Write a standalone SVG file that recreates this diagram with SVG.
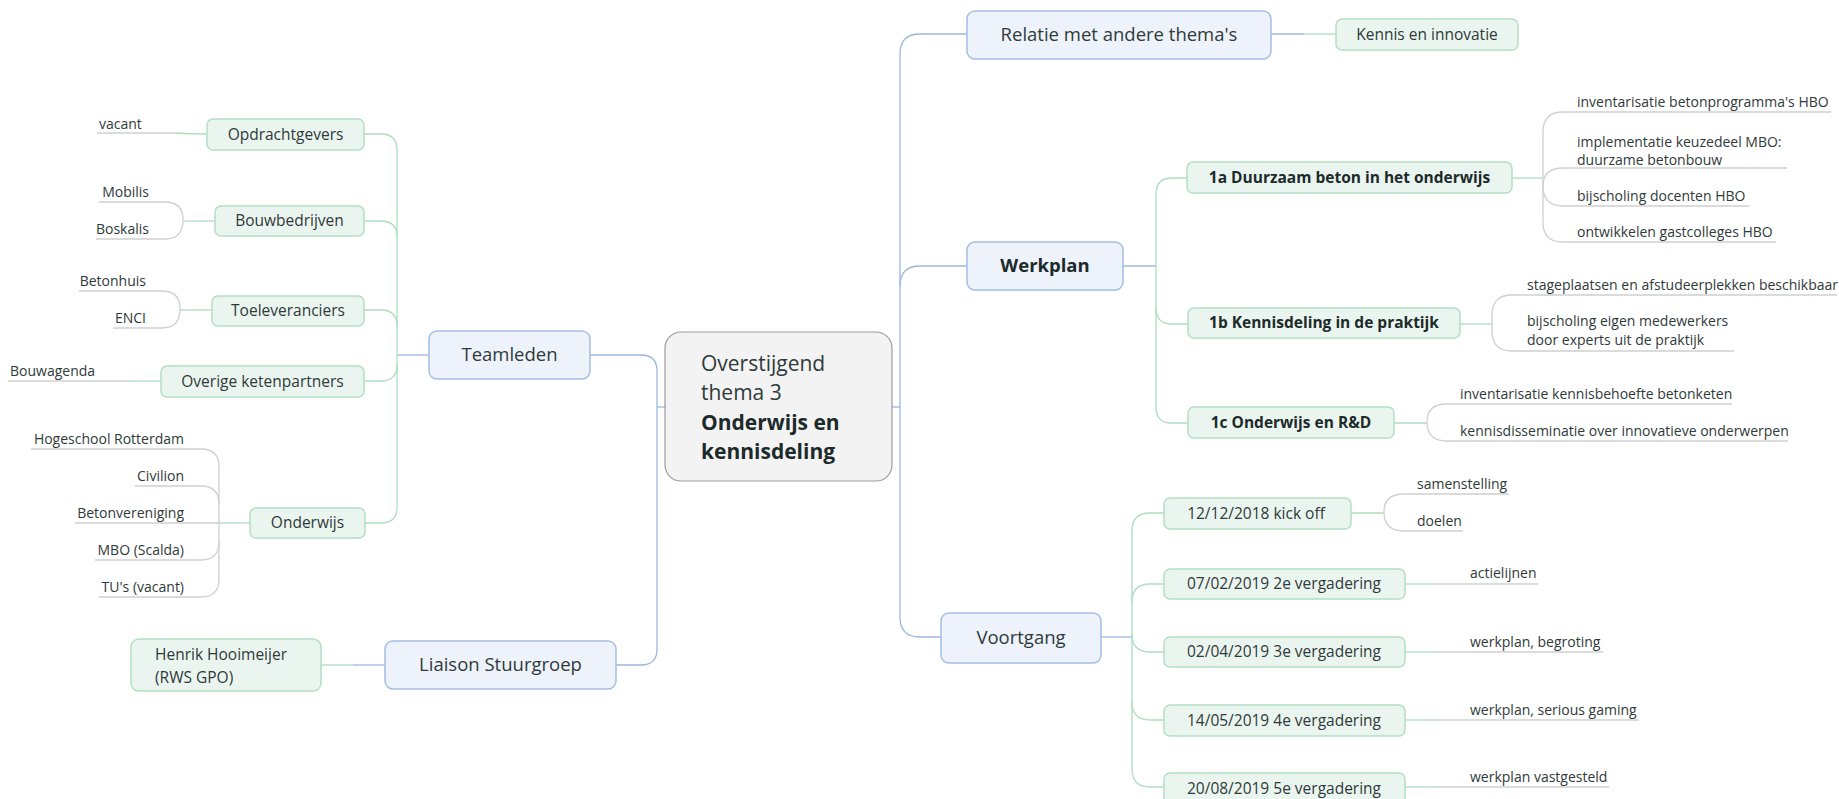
<svg xmlns="http://www.w3.org/2000/svg" width="1839" height="799" viewBox="0 0 1839 799">
<style>
.bl{fill:#EDF2FB;stroke:#A4BEE3;stroke-width:1.5}
.gr{fill:#EBF5EF;stroke:#B3E0C3;stroke-width:1.5}
.ce{fill:#F3F3F3;stroke:#9C9C9C;stroke-width:1.2}
.cb{fill:none;stroke:#9DB8DF;stroke-width:1.3}
.cg{fill:none;stroke:#AEDDBE;stroke-width:1.3}
.cl{fill:none;stroke:#D0D0D0;stroke-width:1.3}
text{font-family:"Open Sans","Noto Sans","DejaVu Sans",sans-serif;fill:#2F3A3A}
.t1{font-size:18.5px}
.t2{font-size:15.5px}
.t3{font-size:14px}
.c{font-size:21px}
.b{font-weight:bold;fill:#1C2A2A}
.m{text-anchor:middle}
.e{text-anchor:end}
</style>
<rect width="1839" height="799" fill="#FFFFFF"/>
<g id="connectors">
<path class="cb" d="M590,355 H641 Q657,355 657,371 V649 Q657,665 641,665 H616"/>
<path class="cb" d="M657,407 H665"/>
<path class="cb" d="M429,355 H397"/>
<path class="cg" d="M364,134 H381 Q397,134 397,150 V507 Q397,523 381,523 H365"/>
<path class="cg" d="M364,221 H381 Q397,221 397,237"/>
<path class="cg" d="M364,310 H381 Q397,310 397,326"/>
<path class="cg" d="M364,381 H381 Q397,381 397,365"/>
<path class="cg" d="M321,665 H353"/>
<path class="cb" d="M353,665 H385"/>
<path class="cl" d="M97,133 H175"/>
<path class="cg" d="M175,133 Q190,134 207,134"/>
<path class="cl" d="M99,202 H165 Q183,202 183,220 Q183,239 165,239 H96"/>
<path class="cg" d="M183,221 H215"/>
<path class="cl" d="M79,291 H162 Q180,291 180,309 Q180,328 162,328 H113"/>
<path class="cg" d="M180,310 H212"/>
<path class="cl" d="M8,381 H130"/>
<path class="cg" d="M130,381 H161"/>
<path class="cl" d="M31,449 H201 Q219,449 219,467 V579 Q219,597 201,597 H99"/>
<path class="cl" d="M135,486 H201 Q219,486 219,504"/>
<path class="cl" d="M219,542 Q219,560 201,560 H95"/>
<path class="cl" d="M75,523 H219"/>
<path class="cg" d="M219,523 H250"/>
<path class="cb" d="M967,34 H920 Q900,34 900,54 V617 Q900,637 920,637 H941"/>
<path class="cb" d="M900,286 Q900,266 920,266 H967"/>
<path class="cb" d="M892,407 H900"/>
<path class="cb" d="M1271,34 H1304"/>
<path class="cg" d="M1304,34 H1336"/>
<path class="cb" d="M1123,266 H1156"/>
<path class="cg" d="M1187,178 H1172 Q1156,178 1156,194 V407 Q1156,423 1172,423 H1188"/>
<path class="cg" d="M1156,308 Q1156,324 1172,324 H1188"/>
<path class="cg" d="M1512,178 H1543"/>
<path class="cl" d="M1831,112 H1563 Q1543,112 1543,132 V222 Q1543,242 1563,242 H1776"/>
<path class="cl" d="M1787,168 H1563 Q1543,168 1543,186"/>
<path class="cl" d="M1543,186 Q1543,206 1563,206 H1749"/>
<path class="cg" d="M1460,324 H1492"/>
<path class="cl" d="M1837,295 H1512 Q1492,295 1492,315 V331 Q1492,351 1512,351 H1734"/>
<path class="cg" d="M1394,423 H1427"/>
<path class="cl" d="M1732,404 H1447 Q1427,404 1427,422 Q1427,441 1447,441 H1788"/>
<path class="cb" d="M1101,637 H1132"/>
<path class="cg" d="M1164,513 H1150 Q1132,513 1132,531 V769 Q1132,787 1150,787 H1164"/>
<path class="cg" d="M1132,602 Q1132,584 1150,584 H1164"/>
<path class="cg" d="M1132,634 Q1132,652 1150,652 H1164"/>
<path class="cg" d="M1132,702 Q1132,720 1150,720 H1164"/>
<path class="cg" d="M1351,513 H1384"/>
<path class="cl" d="M1509,494 H1404 Q1384,494 1384,512 Q1384,531 1404,531 H1463"/>
<path class="cg" d="M1405,584 H1437"/>
<path class="cl" d="M1437,584 H1538"/>
<path class="cg" d="M1405,652 H1437"/>
<path class="cl" d="M1437,652 H1603"/>
<path class="cg" d="M1405,720 H1437"/>
<path class="cl" d="M1437,720 H1639"/>
<path class="cg" d="M1405,787 H1437"/>
<path class="cl" d="M1437,787 H1609"/>
</g>
<g id="center">
<rect class="ce" x="665" y="332" width="227" height="149" rx="16"/>
<text x="701" y="371" class="c">Overstijgend</text>
<text x="701" y="400" class="c">thema 3</text>
<text x="701" y="430" class="c b">Onderwijs en</text>
<text x="701" y="459" class="c b">kennisdeling</text>
</g>
<g id="teamleden"><rect class="bl" x="429" y="331" width="161" height="48" rx="8"/><text class="t1 m" x="509.5" y="361">Teamleden</text></g>
<g id="liaison"><rect class="bl" x="385" y="641" width="231" height="48" rx="8"/><text class="t1 m" x="500.5" y="671">Liaison Stuurgroep</text></g>
<g id="henrik"><rect class="gr" x="131" y="639" width="190" height="52" rx="8"/><text class="t2" x="155" y="660">Henrik Hooimeijer</text><text class="t2" x="155" y="683">(RWS GPO)</text></g>
<g id="opdrachtgevers"><rect class="gr" x="207" y="119" width="157" height="31" rx="6"/><text class="t2 m" x="285.5" y="140">Opdrachtgevers</text></g>
<g id="bouwbedrijven"><rect class="gr" x="215" y="206" width="149" height="30" rx="6"/><text class="t2 m" x="289.5" y="226">Bouwbedrijven</text></g>
<g id="toeleveranciers"><rect class="gr" x="212" y="296" width="152" height="30" rx="6"/><text class="t2 m" x="288" y="316">Toeleveranciers</text></g>
<g id="overige"><rect class="gr" x="161" y="366" width="203" height="31" rx="6"/><text class="t2 m" x="262.5" y="387">Overige ketenpartners</text></g>
<g id="onderwijs"><rect class="gr" x="250" y="508" width="115" height="30" rx="6"/><text class="t2 m" x="307.5" y="528">Onderwijs</text></g>
<g id="left-leaves">
<text class="t3" x="99" y="129">vacant</text>
<text class="t3 e" x="149" y="197">Mobilis</text>
<text class="t3 e" x="149" y="234">Boskalis</text>
<text class="t3 e" x="146" y="286">Betonhuis</text>
<text class="t3 e" x="146" y="323">ENCI</text>
<text class="t3" x="10" y="376">Bouwagenda</text>
<text class="t3 e" x="184" y="444">Hogeschool Rotterdam</text>
<text class="t3 e" x="184" y="481">Civilion</text>
<text class="t3 e" x="184" y="518">Betonvereniging</text>
<text class="t3 e" x="184" y="555">MBO (Scalda)</text>
<text class="t3 e" x="184" y="592">TU's (vacant)</text>
</g>
<g id="relatie"><rect class="bl" x="967" y="11" width="304" height="48" rx="8"/><text class="t1 m" x="1119" y="41">Relatie met andere thema's</text></g>
<g id="kennis"><rect class="gr" x="1336" y="19" width="182" height="31" rx="6"/><text class="t2 m" x="1427" y="40">Kennis en innovatie</text></g>
<g id="werkplan"><rect class="bl" x="967" y="242" width="156" height="48" rx="8"/><text class="t1 m b" x="1045" y="272">Werkplan</text></g>
<g id="n1a"><rect class="gr" x="1187" y="162" width="325" height="31" rx="6"/><text class="t2 m b" x="1349.5" y="183">1a Duurzaam beton in het onderwijs</text></g>
<g id="n1b"><rect class="gr" x="1188" y="308" width="272" height="30" rx="6"/><text class="t2 m b" x="1324" y="328">1b Kennisdeling in de praktijk</text></g>
<g id="n1c"><rect class="gr" x="1188" y="407" width="206" height="31" rx="6"/><text class="t2 m b" x="1291" y="428">1c Onderwijs en R&amp;D</text></g>
<g id="voortgang"><rect class="bl" x="941" y="613" width="160" height="50" rx="8"/><text class="t1 m" x="1021" y="644">Voortgang</text></g>
<g id="d1"><rect class="gr" x="1164" y="498" width="187" height="31" rx="6"/><text class="t2 m" x="1256" y="519">12/12/2018 kick off</text></g>
<g id="d2"><rect class="gr" x="1164" y="569" width="241" height="30" rx="6"/><text class="t2 m" x="1284" y="589">07/02/2019 2e vergadering</text></g>
<g id="d3"><rect class="gr" x="1164" y="637" width="241" height="30" rx="6"/><text class="t2 m" x="1284" y="657">02/04/2019 3e vergadering</text></g>
<g id="d4"><rect class="gr" x="1164" y="705" width="241" height="31" rx="6"/><text class="t2 m" x="1284" y="726">14/05/2019 4e vergadering</text></g>
<g id="d5"><rect class="gr" x="1164" y="773" width="241" height="31" rx="6"/><text class="t2 m" x="1284" y="794">20/08/2019 5e vergadering</text></g>
<g id="right-leaves">
<text class="t3" x="1577" y="107">inventarisatie betonprogramma's HBO</text>
<text class="t3" x="1577" y="147">implementatie keuzedeel MBO:</text>
<text class="t3" x="1577" y="165">duurzame betonbouw</text>
<text class="t3" x="1577" y="201">bijscholing docenten HBO</text>
<text class="t3" x="1577" y="237">ontwikkelen gastcolleges HBO</text>
<text class="t3" x="1527" y="290">stageplaatsen en afstudeerplekken beschikbaar</text>
<text class="t3" x="1527" y="326">bijscholing eigen medewerkers</text>
<text class="t3" x="1527" y="345">door experts uit de praktijk</text>
<text class="t3" x="1460" y="399">inventarisatie kennisbehoefte betonketen</text>
<text class="t3" x="1460" y="436">kennisdisseminatie over innovatieve onderwerpen</text>
<text class="t3" x="1417" y="489">samenstelling</text>
<text class="t3" x="1417" y="526">doelen</text>
<text class="t3" x="1470" y="578">actielijnen</text>
<text class="t3" x="1470" y="647">werkplan, begroting</text>
<text class="t3" x="1470" y="715">werkplan, serious gaming</text>
<text class="t3" x="1470" y="782">werkplan vastgesteld</text>
</g>
</svg>
